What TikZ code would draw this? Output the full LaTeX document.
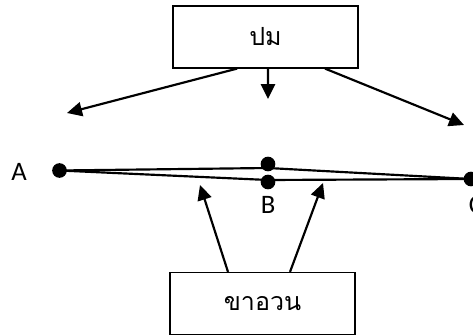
\documentclass[tikz,border=0pt]{standalone}
\usepackage{fontspec}
\setmainfont{Carlito}
\newfontfamily\thaifont[Script=Thai]{Loma}
\usetikzlibrary{arrows.meta, positioning, calc}

\begin{document}
\begin{tikzpicture}[x=0.6pt, y=-0.6pt, line width=1.3pt,
    box/.style={draw, line width=0.9pt, minimum width=111pt, minimum height=37pt,
      inner sep=0pt, font=\thaifont\fontsize{15}{17}\selectfont},
    arr/.style={-{Triangle[length=9pt,width=8.5pt]}},
    lbl/.style={font=\fontsize{16}{18}\selectfont}]
        \useasboundingbox (0,0) rectangle (473,335);

        \node[box] (pm) at (265.5,37) {ปม};
        \node[box] (khaouan) at (262.5,303.5) {ขาอวน};

        % punti
        \coordinate (A) at (59.5,170.5);
        \coordinate (Bup) at (268,164);
        \coordinate (Blo) at (268,182);
        \coordinate (C) at (471,179);

        \draw (A) -- ($(Bup)+(0,4)$) -- (C);
        \draw (A) -- ($(Blo)+(0,-2)$) -- (C);
        \foreach \p in {A, Bup, Blo, C}
            \fill (\p) circle (4.4pt);

        \node[lbl] (labA) at (19,172) {A};
        \node[lbl] (labB) at (268,205) {B};
        \node[lbl] (labC) at (476,205) {C};

        % frecce dall'alto
        \coordinate (topL) at (67,113);
        \coordinate (topM) at (268,99);
        \coordinate (topR) at (464,125);
        \draw[arr] ([xshift=-17pt]pm.south) -- (topL);
        \draw[arr] ([xshift=1.5pt]pm.south) -- (topM);
        \draw[arr] ([xshift=35.7pt]pm.south) -- (topR);

        % frecce dal basso
        \coordinate (botL) at (200,185);
        \coordinate (botR) at (323,183);
        \draw[arr] ([xshift=-20.7pt]khaouan.north) -- (botL);
        \draw[arr] ([xshift=16.5pt]khaouan.north) -- (botR);
\end{tikzpicture}
\end{document}
